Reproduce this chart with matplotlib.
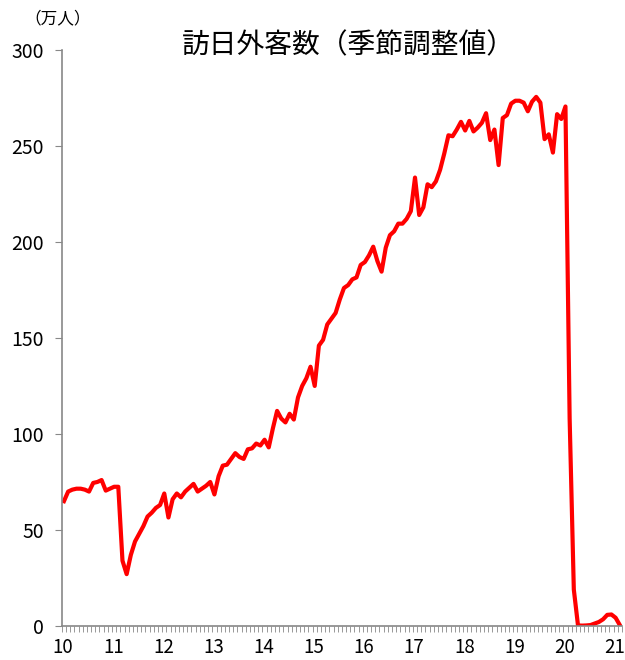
import numpy as np
import matplotlib
matplotlib.use("Agg")
import matplotlib.pyplot as plt
from matplotlib.ticker import MultipleLocator, FixedLocator

plt.rcParams['font.family'] = ['Noto Sans CJK JP', 'DejaVu Sans']

# monthly, seasonally adjusted (10k persons), Jan 2010 - Feb 2021
visitors = [
    65, 70, 71, 71.5, 71.5, 71, 70, 74.5, 75, 76, 70.5, 71.5,              # 2010
    72.5, 72.5, 34, 27, 37, 44, 48, 52, 57, 59, 61.5, 63,                  # 2011
    69, 56.5, 66, 69, 67, 70, 72, 74, 70, 71.5, 73, 75,                    # 2012
    68.5, 78, 83.5, 84, 87, 90, 88, 87, 92, 92.5, 95, 94,                  # 2013
    97, 93, 103, 112, 108, 106, 110.5, 107.5, 119, 125, 129, 135,          # 2014
    125, 146, 149, 157, 160, 163, 170, 176, 177.5, 180.5, 181.5, 188,      # 2015
    189.5, 193, 197.5, 190, 184.5, 197, 203.5, 205.5, 209.5, 209.5, 212, 216,  # 2016
    233.5, 214, 218, 230, 228.5, 231.5, 237.5, 246, 255.5, 255, 258.5, 262.5,  # 2017
    258, 263, 257.5, 259.5, 262, 267, 253, 258.5, 240, 264.5, 266, 272,    # 2018
    273.5, 273.5, 272.5, 268, 273, 275.5, 272.5, 253.5, 256, 246.5, 266.5, 264,  # 2019
    270.5, 108, 19, 0.3, 0.2, 0.3, 0.5, 1.3, 2.1, 3.5, 5.8, 6.0,           # 2020
    4.3, 0.5,                                                              # 2021
]
year_labels = ["10", "11", "12", "13", "14", "15", "16", "17", "18", "19", "20", "21"]

fig = plt.figure(figsize=(6.25, 6.6), dpi=100)
ax = fig.add_axes([0.099, 0.0515, 0.896, 0.873])

x = np.arange(len(visitors))
ax.plot(x, visitors, color="#ff0000", lw=3, solid_joinstyle="round")

ax.set_xlim(-0.5, len(visitors) - 0.5)
ax.set_ylim(0, 300)
ax.yaxis.set_major_locator(MultipleLocator(50))

# year labels at each January, monthly minor ticks
ax.xaxis.set_major_locator(FixedLocator([12 * i - 0.2 for i in range(len(year_labels))]))
ax.set_xticklabels(year_labels)
ax.xaxis.set_minor_locator(FixedLocator(np.arange(len(visitors) + 1) - 0.5))
ax.tick_params(axis="x", which="major", length=0, labelsize=13.5, pad=8)
ax.tick_params(axis="x", which="minor", length=4, color="#888888", direction="out")
ax.tick_params(axis="y", length=5, color="#888888", labelsize=14, pad=8)

for s in ["top", "right"]:
    ax.spines[s].set_visible(False)
for s in ["left", "bottom"]:
    ax.spines[s].set_color("#888888")
    ax.spines[s].set_linewidth(1.2)

fig.text(0.557, 0.931, "訪日外客数（季節調整値）", ha="center", va="center", fontsize=20)
fig.text(0.093, 0.971, "（万人）", ha="center", va="center", fontsize=12)

fig.savefig("out.png", dpi=100)
